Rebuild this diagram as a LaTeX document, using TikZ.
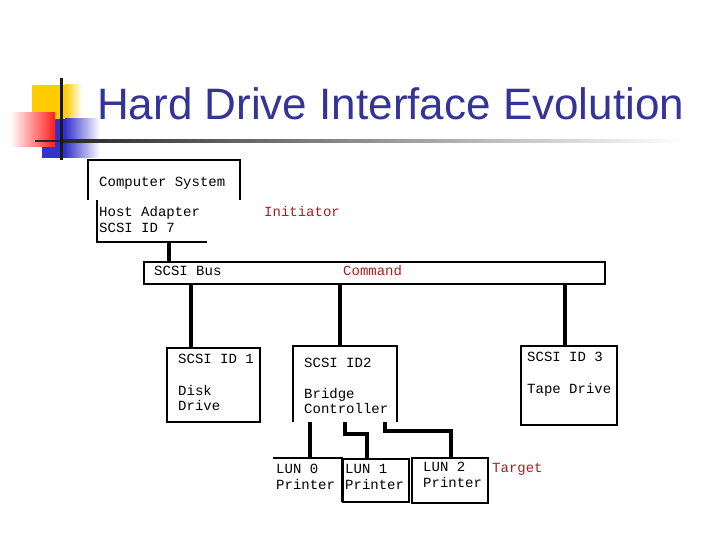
\documentclass[tikz,border=0pt]{standalone}
\usepackage{fontspec}
\setmainfont{Liberation Sans}
\newfontfamily\monof{Liberation Mono}
\definecolor{titleblue}{RGB}{51,51,153}
\definecolor{redtxt}{RGB}{170,30,30}
\definecolor{logoyellow}{RGB}{255,204,0}
\definecolor{logoblue}{RGB}{51,51,204}
\definecolor{logored}{RGB}{255,30,30}
\begin{document}
\begin{tikzpicture}[x=1pt,y=-1pt,
  box/.style={inner sep=0pt, outer sep=0pt, anchor=north west},
  thin/.style={line width=1.2pt, black},
  conn/.style={line width=4pt, black},
  lbl/.style={font=\monof\fontsize{14}{16}\selectfont, inner sep=0pt, anchor=base west},
  redlbl/.style={lbl, text=redtxt}]
\useasboundingbox (0,0) rectangle (720,540);
% logo
\fill[logoyellow] (32,85) rectangle (65,120);
\shade[left color=logoyellow, right color=white] (65,85) rectangle (82,120);
\fill[logoblue] (42,119) rectangle (65,158);
\shade[left color=logoblue, right color=white] (65,119) rectangle (100,158);
\shade[left color=white, right color=logored] (10,113) rectangle (55,147);
\fill[black!85] (35,140) rectangle (60,142.5);
\shade[left color=black!85, right color=white] (60,140) rectangle (683,142.5);
\draw[line width=3pt, black!90] (61,78) -- (61,160);
% title
\node[anchor=base west, inner sep=0pt, text=titleblue, font=\fontsize{44}{50}\selectfont] (title) at (97,120) {Hard Drive Interface Evolution};
% boxes
\node[box, minimum width=152, minimum height=40] (cs) at (88,160) {};
\draw[thin] (cs.south west) -- (cs.north west) -- (cs.north east) -- (cs.south east);
\node[box, minimum width=110, minimum height=42] (ha) at (97,200) {};
\draw[thin] (ha.north west) -- (ha.south west) -- (ha.south east);
\node[box, minimum width=461, minimum height=22, draw, thin] (bus) at (144,262) {};
\node[box, minimum width=93, minimum height=74, draw, thin] (disk) at (167,348) {};
\node[box, minimum width=104, minimum height=76] (bridge) at (293,346) {};
\draw[thin] (bridge.south west) -- (bridge.north west) -- (bridge.north east) -- (bridge.south east);
\node[box, minimum width=96, minimum height=79, draw, thin] (tape) at (521,346) {};
\node[box, minimum width=69, minimum height=44] (lun0) at (273,458) {};
\draw[thin] (lun0.north west) -- (lun0.north east) -- (lun0.south east);
\node[box, minimum width=66, minimum height=43, draw, thin] (lun1) at (343,459) {};
\node[box, minimum width=76, minimum height=45, draw, thin] (lun2) at (412,458) {};
% labels
\node[lbl] (t1) at (99,187) {Computer System};
\node[lbl] (t2) at (99,217) {Host Adapter};
\node[lbl] (t3) at (99,233) {SCSI ID 7};
\node[redlbl] (t4) at (264,216) {Initiator};
\node[lbl] (t5) at (154,275) {SCSI Bus};
\node[redlbl] (t6) at (343,275) {Command};
\node[lbl] (t7) at (178,363) {SCSI ID 1};
\node[lbl] (t8) at (178,395) {Disk};
\node[lbl] (t9) at (178,410) {Drive};
\node[lbl] (t10) at (304,367) {SCSI ID2};
\node[lbl] (t11) at (304,398) {Bridge};
\node[lbl] (t12) at (304,413) {Controller};
\node[lbl] (t13) at (527,361) {SCSI ID 3};
\node[lbl] (t14) at (527,393) {Tape Drive};
\node[lbl] (t15) at (276,473) {LUN 0};
\node[lbl] (t16) at (276,489) {Printer};
\node[lbl] (t17) at (345,473) {LUN 1};
\node[lbl] (t18) at (345,489) {Printer};
\node[lbl] (t19) at (423,471) {LUN 2};
\node[lbl] (t20) at (423,487) {Printer};
\node[redlbl] (t21) at (492,472) {Target};
% connectors
\coordinate (h1) at ([xshift=72pt]ha.south west);
\draw[conn] (h1) -- (h1 |- bus.north);
\coordinate (d1) at ([xshift=24pt]disk.north west);
\draw[conn] (d1 |- bus.south) -- (d1);
\coordinate (b1) at ([xshift=47pt]bridge.north west);
\draw[conn] (b1 |- bus.south) -- (b1);
\coordinate (tp) at ([xshift=44pt]tape.north west);
\draw[conn] (tp |- bus.south) -- (tp);
\coordinate (c0) at ([xshift=17pt]bridge.south west);
\draw[conn] (c0) -- (c0 |- lun0.north);
\coordinate (c1) at ([xshift=52pt]bridge.south west);
\coordinate (l1) at ([xshift=24pt]lun1.north west);
\draw[conn] (c1) -- ++(0,12) -| (l1);
\coordinate (c2) at ([xshift=92pt]bridge.south west);
\coordinate (l2) at ([xshift=39pt]lun2.north west);
\draw[conn] (c2) -- ++(0,9) -| (l2);
\end{tikzpicture}
\end{document}
